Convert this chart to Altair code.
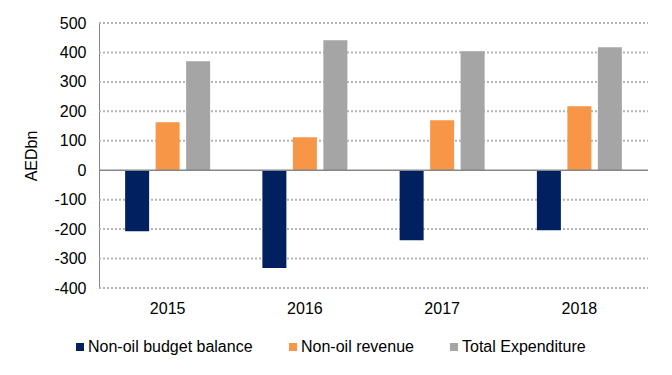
import altair as alt
import pandas as pd

years = ["2015", "2016", "2017", "2018"]
series = ["Non-oil budget balance", "Non-oil revenue", "Total Expenditure"]
balance = [-207, -332, -238, -204]
revenue = [163, 112, 170, 217]
expenditure = [370, 441, 404, 418]
colors = ["#002060", "#F79646", "#A5A5A5"]
y_ticks = [-400, -300, -200, -100, 0, 100, 200, 300, 400, 500]

rows = []
for i, y in enumerate(years):
    for s, vals in zip(series, [balance, revenue, expenditure]):
        rows.append({"year": y, "series": s, "value": vals[i]})
df = pd.DataFrame(rows)
grid_df = pd.DataFrame({"v": [t for t in y_ticks if t != 0]})
zero_df = pd.DataFrame({"v": [0]})

FONT = "Liberation Sans"

yscale = alt.Scale(domain=[-400, 500], nice=False, zero=False)
yaxis = alt.Axis(title="AEDbn", values=y_ticks, labelOverlap=False,
                 labelExpr="replace(format(datum.value, 'd'), '−', '-')",
                 ticks=False, domain=True, domainColor="#868686",
                 domainWidth=1, grid=False,
                 labelPadding=13, labelFontSize=16, labelFont=FONT,
                 labelColor="#000000",
                 titleFontSize=16, titleFont=FONT, titleFontWeight="normal",
                 titleColor="#000000", titlePadding=14)

grid = alt.Chart(grid_df).mark_rule(color="#B4B4B4", strokeWidth=2, strokeDash=[2, 2]).encode(
    y=alt.Y("v:Q", scale=yscale, axis=yaxis),
    x=alt.value(0),
    x2=alt.value(549),
)

bars = alt.Chart(df).mark_bar().encode(
    x=alt.X("year:N", sort=years,
            scale=alt.Scale(paddingInner=0, paddingOuter=0),
            axis=alt.Axis(title=None, labelAngle=0, ticks=False, domain=False, grid=False,
                          labelPadding=12, labelFontSize=16, labelFont=FONT,
                          labelColor="#000000")),
    xOffset=alt.XOffset("series:N", sort=series,
                        scale=alt.Scale(paddingInner=0.213, paddingOuter=0.857)),
    y=alt.Y("value:Q", scale=yscale, axis=yaxis),
    color=alt.Color("series:N", sort=series,
                    scale=alt.Scale(domain=series, range=colors),
                    legend=alt.Legend(title=None, orient="none", direction="horizontal",
                                      legendX=-27, legendY=316,
                                      symbolType="square", symbolSize=64,
                                      symbolStrokeWidth=0, labelLimit=400,
                                      labelFontSize=16, labelFont=FONT,
                                      labelColor="#000000", labelOffset=0,
                                      columnPadding=32)),
)

zero = alt.Chart(zero_df).mark_rule(color="#868686", strokeWidth=1.5).encode(
    y=alt.Y("v:Q", scale=yscale, axis=yaxis),
    x=alt.value(0),
    x2=alt.value(549),
)

chart = alt.layer(grid, bars, zero).properties(
    width=549, height=265,
    background="#FFFFFF",
    autosize=alt.AutoSizeParams(type="none"),
    padding={"left": 99, "top": 23, "right": 24, "bottom": 87},
).configure_view(strokeWidth=0)

chart.save("out.html", embed_options={"renderer": "svg", "actions": False})
